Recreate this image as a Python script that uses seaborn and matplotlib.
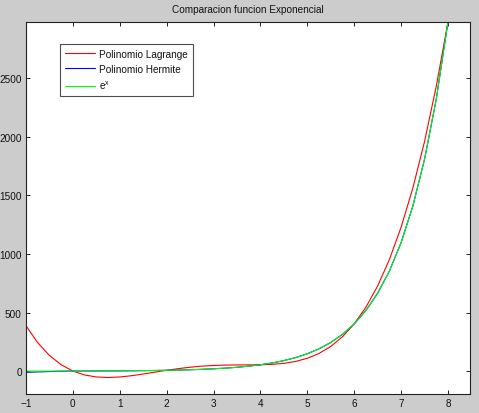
import numpy as np
import pandas as pd
import matplotlib
matplotlib.use("Agg")
import matplotlib.pyplot as plt
import seaborn as sns

# x sample points (step 0.25 from -1 to 8)
x_vals = [-1.0, -0.75, -0.5, -0.25, 0.0, 0.25, 0.5, 0.75, 1.0, 1.25, 1.5, 1.75,
          2.0, 2.25, 2.5, 2.75, 3.0, 3.25, 3.5, 3.75, 4.0, 4.25, 4.5, 4.75,
          5.0, 5.25, 5.5, 5.75, 6.0, 6.25, 6.5, 6.75, 7.0, 7.25, 7.5, 7.75, 8.0]

lagrange = [387.2, 242.8, 133.9, 54.9, 1.0, -32.5, -49.6, -54.2, -49.7, -38.9,
            -24.5, -8.4, 7.4, 21.7, 33.7, 42.7, 48.6, 51.9, 53.2, 53.6, 54.6,
            58.2, 66.7, 82.9, 109.9, 151.3, 211.0, 293.5, 403.4, 546.1, 727.0,
            952.2, 1228.1, 1561.5, 1959.6, 2430.1, 2981.0]

hermite = [-9.5, -6.5, -3.5, -0.5, 1.00, 1.28, 1.65, 2.12, 2.72, 3.49, 4.48,
           5.75, 7.39, 9.49, 12.18, 15.64, 20.09, 25.79, 33.12, 42.52, 54.60,
           70.11, 90.02, 115.58, 148.41, 190.57, 244.69, 314.19, 403.43, 518.01,
           665.14, 854.06, 1096.63, 1408.10, 1808.04, 2321.57, 2980.96]

exponencial = [0.37, 0.47, 0.61, 0.78, 1.00, 1.28, 1.65, 2.12, 2.72, 3.49, 4.48,
               5.75, 7.39, 9.49, 12.18, 15.64, 20.09, 25.79, 33.12, 42.52, 54.60,
               70.11, 90.02, 115.58, 148.41, 190.57, 244.69, 314.19, 403.43, 518.01,
               665.14, 854.06, 1096.63, 1408.10, 1808.04, 2321.57, 2980.96]

labels = ["Polinomio Lagrange", "Polinomio Hermite", "e$^{x}$"]
colors = ["#ff0000", "#0000ff", "#00ff00"]
x_ticks = [-1, 0, 1, 2, 3, 4, 5, 6, 7, 8]
y_ticks = [0, 500, 1000, 1500, 2000, 2500]
title = "Comparacion funcion Exponencial"

sns.set_theme(style="white")
plt.rcParams['font.family'] = ['Liberation Sans', 'DejaVu Sans']
plt.rcParams['mathtext.default'] = 'regular'

fig = plt.figure(figsize=(4.79, 4.14), dpi=100, facecolor="#cccccc")
ax = fig.add_axes([0.0543, 0.0459, 0.9269, 0.8985])
ax.set_facecolor("white")

for series, lab, col in zip([lagrange, hermite, exponencial], labels, colors):
    sns.lineplot(x=x_vals, y=series, color=col, lw=0.8, ax=ax, label=lab,
                 sort=False, estimator=None)

ax.set_xlim(-1, 8.47)
ax.set_ylim(-195, 2981)
ax.set_xticks(x_ticks)
ax.set_yticks(y_ticks)
ax.tick_params(direction="in", length=3, width=0.7, colors="#222222",
               labelsize=7.2, labelcolor="#111111", pad=3,
               top=True, right=True, bottom=True, left=True)
for sp in ax.spines.values():
    sp.set_color("#222222")
    sp.set_linewidth(0.8)
    sp.set_visible(True)

ax.set_title(title, fontsize=7.2, color="#111111", pad=7)

leg = ax.legend(loc="upper left", bbox_to_anchor=(0.0766, 0.941), borderaxespad=0,
                fontsize=7.2, frameon=True, fancybox=False, handlelength=3.0,
                handletextpad=0.4, borderpad=0.5, labelspacing=0.5)
leg.get_frame().set_edgecolor("#222222")
leg.get_frame().set_linewidth(0.8)
for t in leg.get_texts():
    t.set_color("#111111")

fig.savefig("out.png", dpi=100, facecolor=fig.get_facecolor())
